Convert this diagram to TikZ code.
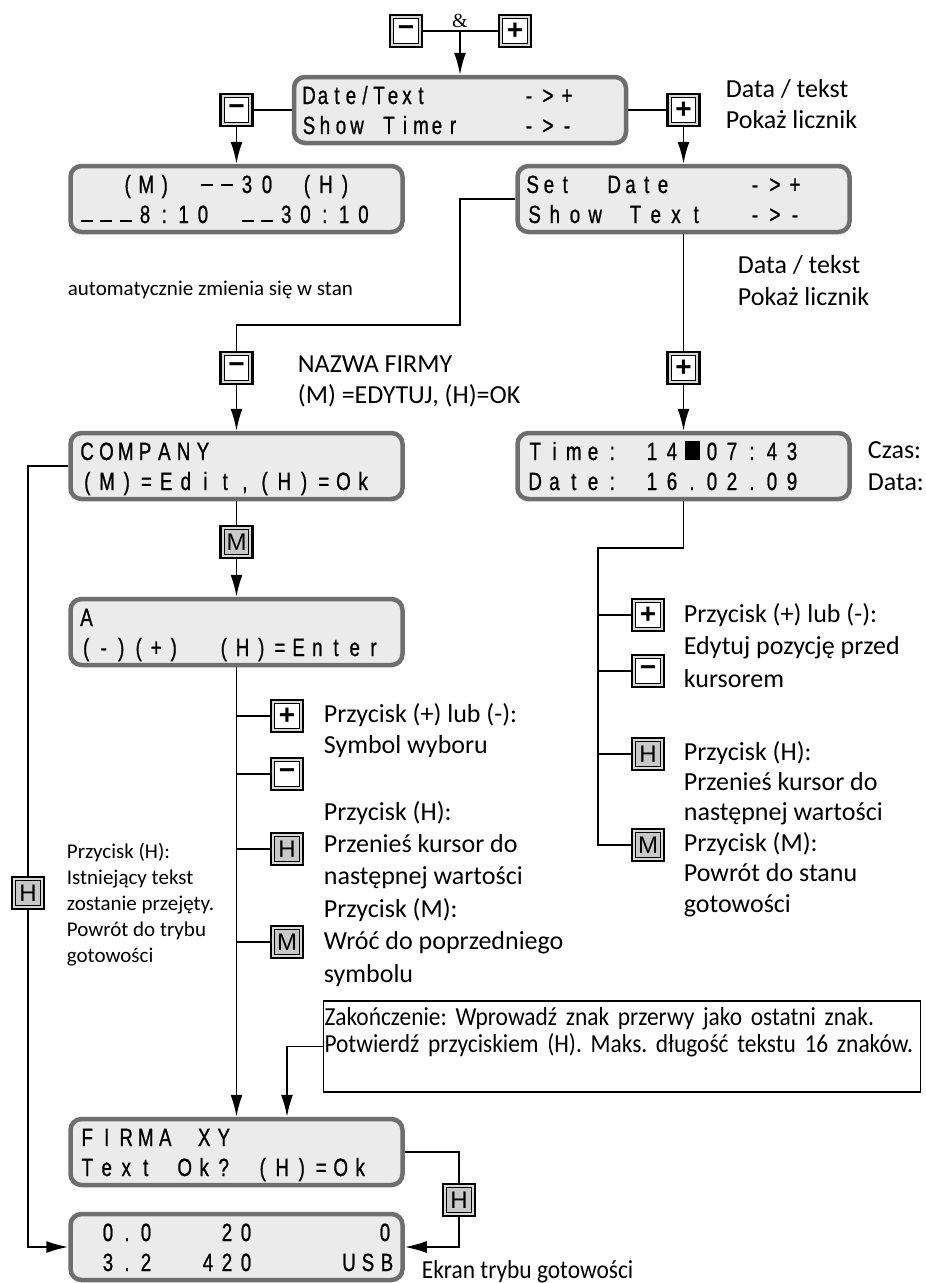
\documentclass[tikz,border=0pt]{standalone}
\usepackage{fontspec}
\usepackage{tikz}
\usetikzlibrary{arrows.meta}
\setmainfont{Carlito}
\newfontfamily\lcdfont[FakeStretch=0.75,FakeBold=0.8]{Liberation Sans}
\newfontfamily\keyfont{Liberation Sans}
\newfontfamily\ampfont{Liberation Serif}
\newfontfamily\notefont[FakeStretch=0.9]{Carlito}
\frenchspacing

\definecolor{lcdgray}{HTML}{6E6E6E}
\definecolor{lcdfill}{HTML}{EBEBEB}
\definecolor{keyfill}{HTML}{C8C8C8}
\definecolor{keyring}{HTML}{D8D8D8}

% LCD character cells
\newlength\cellw
\newcommand\cells[2]{\setlength\cellw{#1pt}\cellstep#2\relax}
\newcommand\cellstep[1]{\ifx\relax#1\else\makebox[\cellw]{#1}\expandafter\cellstep\fi}
\newcommand\seg[3]{\rlap{\hspace*{#1pt}\cells{#2}{#3}}}
\newcommand\lcdline[1]{\makebox[318pt][l]{\rule[-6pt]{0pt}{30pt}#1}}
\newcommand\us{\rule[1pt]{12pt}{2.4pt}}
\newcommand\uh{\rule[7pt]{12pt}{2.4pt}}
\newcommand\blk{\rule{15pt}{19pt}}
\newcommand\sym[1]{{\fontsize{28pt}{28pt}\selectfont\bfseries#1}}

\begin{document}
\begin{tikzpicture}[x=1pt, y=-1pt, line width=1.8pt,
    >={Latex[length=22pt,width=12pt]},
    lcd/.style={draw=lcdgray, line width=4.5pt, rounded corners=11pt, fill=lcdfill,
      minimum width=332pt, minimum height=66pt, inner sep=0pt, align=left,
      font=\lcdfont\fontsize{25pt}{30pt}\selectfont},
    key/.style={draw=black, line width=2.6pt, fill=keyring, minimum size=32pt, inner sep=0pt,
      font=\keyfont\fontsize{24pt}{24pt}\selectfont,
      path picture={\draw[line width=1pt, fill=#1]
        ([xshift=3.6pt,yshift=3.6pt]path picture bounding box.south west) rectangle
        ([xshift=-3.6pt,yshift=-3.6pt]path picture bounding box.north east);}},
    key/.default=white,
    graykey/.style={key=keyfill},
    txt/.style={anchor=base west, align=left, inner sep=0pt,
      font=\fontsize{26pt}{32pt}\selectfont},
    small/.style={txt, font=\fontsize{21pt}{26pt}\selectfont},
    note/.style={draw, line width=1.5pt, minimum width=597pt, text width=595pt,
      align=left, inner xsep=1pt, inner ysep=0pt,
      font=\notefont\fontsize{26pt}{27pt}\selectfont}]
\useasboundingbox (0,0) rectangle (926,1283);

% displays
\node[lcd] (menu) at (460,110) {\lcdline{\seg{1}{14}{Date/Text}\seg{218.5}{19}{->+}}\\
  \lcdline{\seg{0}{16}{Show~Timer}\seg{218.5}{19}{->-}}};
\node[lcd] (timer) at (236.5,199) {\lcdline{\seg{41}{18.5}{(M)}\seg{119.5}{20}{\uh\uh30}\seg{220}{19}{(H)}}\\
  \lcdline{\seg{0}{19.3}{\us\us\us8:10}\seg{160.5}{19.3}{\us\us30:10}}};
\node[lcd] (setdate) at (683.5,199) {\lcdline{\seg{0}{16.3}{Set~~Date}\seg{220.5}{20}{->+}}\\
  \lcdline{\seg{0}{20.2}{Show~Text}\seg{220.5}{20}{->-}}};
\node[lcd] (company) at (236.5,466) {\lcdline{\seg{0}{19.3}{COMPANY}}\\
  \lcdline{\seg{0}{19.7}{(M)=Edit,(H)=Ok}}};
\node[lcd] (clock) at (683.5,466) {\lcdline{\seg{1}{19.3}{Time:}\seg{117.5}{20}{14\blk07:43}}\\
  \lcdline{\seg{1}{19.3}{Date:}\seg{117.5}{20}{16.02.09}}};
\node[lcd] (enter) at (236.5,632) {\lcdline{\seg{0}{18}{A}}\\
  \lcdline{\seg{0}{17.5}{(-)(+)}\seg{137}{18.7}{(H)=Enter}}};
\node[lcd] (result) at (236.5,1152) {\lcdline{\seg{0}{19.5}{FIRMA~XY}}\\
  \lcdline{\seg{0}{19.5}{Text~Ok?~(H)=Ok}}};
\node[lcd] (standby) at (236.5,1247) {\lcdline{\seg{21}{19}{0.0}\seg{140}{19}{20}\seg{298}{19}{0}}\\
  \lcdline{\seg{21}{19}{3.2}\seg{121}{19}{420}\seg{262}{19}{USB}}};

% keys
\node[key] (btminus) at (406,31) {\sym{−}};
\node[key] (btplus) at (515,31) {\sym{+}};
\node[key] (bmenuminus) at (236.5,110) {\sym{−}};
\node[key] (bdateplus) at (683.5,110) {\sym{+}};
\node[key] (bsetminus) at (236.5,368) {\sym{−}};
\node[key] (bsetplus) at (683.5,368) {\sym{+}};
\node[graykey] (bcompM) at (236.5,542) {M};
\node[key] (bmplus) at (287,716) {\sym{+}};
\node[key] (bmminus) at (287,774) {\sym{−}};
\node[graykey] (bmH) at (287,849) {H};
\node[graykey] (bmM) at (287,942) {M};
\node[key] (brplus) at (648,615) {\sym{+}};
\node[key] (brminus) at (648,671) {\sym{−}};
\node[graykey] (brH) at (648,754) {H};
\node[graykey] (brM) at (648,845) {M};
\node[graykey] (bleftH) at (28,893) {H};
\node[graykey] (bokH) at (459,1200) {H};

% texts (multi-line nodes sit on their last baseline)
\node[anchor=base, inner sep=0pt, font=\ampfont\fontsize{20pt}{20pt}\selectfont] (amp) at (460,27) {\&};
\node[txt, font=\fontsize{26pt}{31pt}\selectfont] (datalbl) at (725,128) {Data / tekst\\Pokaż licznik};
\node[txt] (datalbl2) at (737,305) {Data / tekst\\Pokaż licznik};
\node[small] (autolbl) at (67,295) {automatycznie zmienia się w stan};
\node[txt, font=\fontsize{26pt}{31pt}\selectfont] (namelbl) at (297,403) {NAZWA FIRMY\\(M) =EDYTUJ, (H)=OK};
\node[txt] (clocklbl) at (867,490) {Czas:\\Data:};
\node[txt, font=\fontsize{26pt}{32.5pt}\selectfont] (rlbl1) at (683,687) {Przycisk (+) lub (-):\\Edytuj pozycję przed\\kursorem};
\node[txt, font=\fontsize{26pt}{30.4pt}\selectfont] (rlbl2) at (683,912) {Przycisk (H):\\Przenieś kursor do\\następnej wartości\\Przycisk (M):\\Powrót do stanu\\gotowości};
\node[txt, font=\fontsize{26pt}{31pt}\selectfont] (mlbl1) at (323,753) {Przycisk (+) lub (-):\\Symbol wyboru};
\node[txt, font=\fontsize{26pt}{32.4pt}\selectfont] (mlbl2) at (323,982) {Przycisk (H):\\Przenieś kursor do\\następnej wartości\\Przycisk (M):\\Wróć do poprzedniego\\symbolu};
\node[small] (llbl) at (66,962) {Przycisk (H):\\Istniejący tekst\\zostanie przejęty.\\Powrót do trybu\\gotowości};
\node[note] (note) at (622,1046.5) {\rule{0pt}{24pt}Zakończenie: Wprowadź znak przerwy jako ostatni znak.\\Potwierdź przyciskiem (H). Maks. długość tekstu 16 znaków.\rule[-40pt]{0pt}{40pt}};
\node[txt, font=\notefont\fontsize{26pt}{26pt}\selectfont] (readylbl) at (421,1278) {Ekran trybu gotowości};

% connectors
\coordinate (and) at (menu.north |- btminus);
\draw (btminus) -- (btplus);
\draw[->] (and) -- (menu.north);
\draw (menu) -- (bmenuminus);
\draw[->] (bmenuminus) -- (timer);
\draw (menu) -- (bdateplus);
\draw[->] (bdateplus) -- (setdate);
\coordinate (split) at (460,325);
\draw (setdate.west) -| (split) -| (bsetminus.north);
\draw[->] (bsetminus) -- (company);
\draw (setdate) -- (bsetplus);
\draw[->] (bsetplus) -- (clock);
\draw (company) -- (bcompM);
\draw[->] (bcompM) -- (enter);
\draw[->] (enter) -- (result);
\foreach \k in {bmplus,bmminus,bmH,bmM} \draw (enter.south |- \k) -- (\k);
\coordinate (rtop) at (598,548);
\draw (clock.south) |- (rtop) |- (brM.west);
\foreach \k in {brplus,brminus,brH} \draw (rtop |- \k) -- (\k);
\draw (company.west) -| (bleftH.north);
\draw[->] (bleftH.south) |- (standby.west);
\draw[->] (note.west) -| ([xshift=50.5pt]result.north);
\draw (result.east) -| (bokH.north);
\draw[->] (bokH.south) |- (standby.east);

\end{tikzpicture}
\end{document}
